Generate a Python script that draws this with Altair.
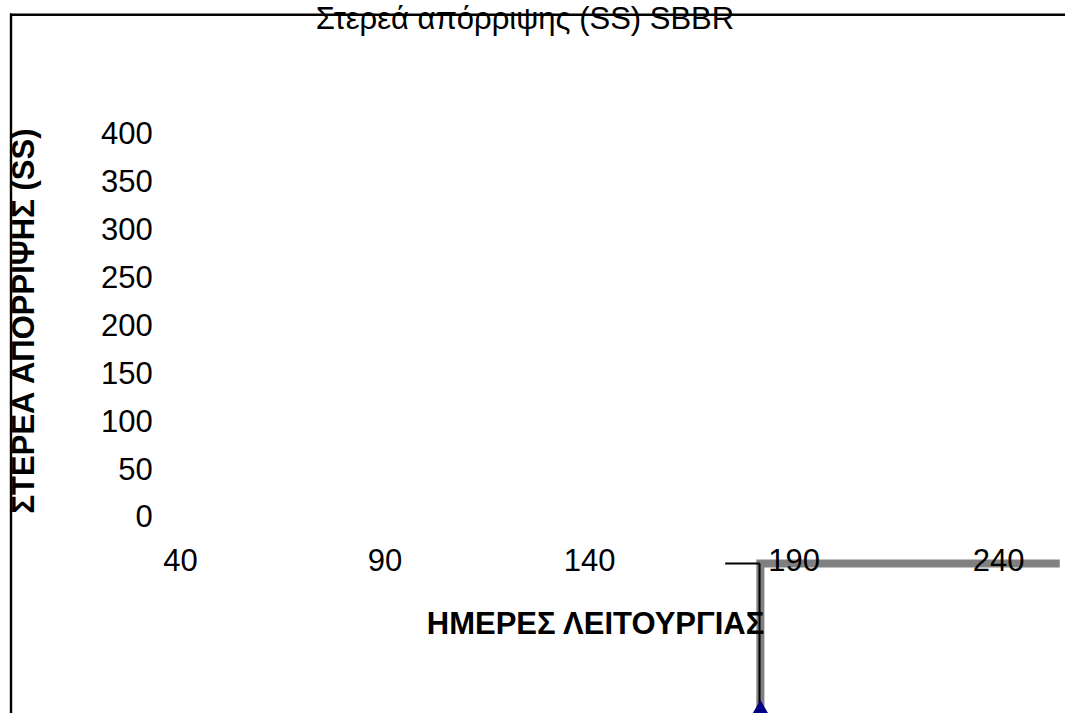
import altair as alt
import pandas as pd

FONT = "Liberation Sans"

# ---- values ----
x_ticks = [40, 90, 140, 190, 240]
y_ticks = [0, 50, 100, 150, 200, 250, 300, 350, 400]

x_domain = [-4.01, 256.38]
y_domain = [-203.8, 540.9]

# grey plot-area border series
border_x = [181.9, 181.9, 255.1]
border_y = [-212.0, -47.6, -47.6]
border_order = [0, 1, 2]

# data point (triangle marker)
point_x = [181.9]
point_y = [-198.3]

# inner axis line and its tick
axis_line_x = [181.7]
axis_line_y = [-47.6]
axis_line_y2 = [-212.0]
tick_x = [173.3]
tick_x2 = [181.7]
tick_y = [-47.6]

title_text = "Στερεά απόρριψης (SS) SBBR"
x_title = "ΗΜΕΡΕΣ ΛΕΙΤΟΥΡΓΙΑΣ"
y_title = "ΣΤΕΡΕΑ ΑΠΟΡΡΙΨΗΣ (SS)"

border_df = pd.DataFrame({"x": border_x, "y": border_y, "o": border_order})
point_df = pd.DataFrame({"x": point_x, "y": point_y})
axis_df = pd.DataFrame({"x": axis_line_x, "y": axis_line_y, "y2": axis_line_y2})
tick_df = pd.DataFrame({"x": tick_x, "x2": tick_x2, "y": tick_y})

xs = alt.Scale(domain=x_domain, nice=False, zero=False)
ys = alt.Scale(domain=y_domain, nice=False, zero=False)

x_axis = alt.Axis(
    values=x_ticks, title=x_title, offset=-151.7, domain=False, ticks=False,
    tickSize=0, grid=False, labelPadding=0, labelBaseline="middle",
    labelFont=FONT, labelFontSize=31, labelColor="black", labelFlush=False,
    labelOverlap=False, labelBound=False, zindex=1,
    titleFont=FONT, titleFontSize=31, titleFontWeight="bold", titleColor="black",
    titleX=595, titleY=63.3, titleAlign="center", titleBaseline="middle",
)
y_axis = alt.Axis(
    values=y_ticks, title=y_title, offset=-152.3, domain=False, ticks=False,
    tickSize=0, grid=False, labelPadding=0, labelBaseline="middle", labelAlign="right",
    labelFont=FONT, labelFontSize=31, labelColor="black", labelFlush=False,
    labelOverlap=False, labelBound=False,
    titleFont=FONT, titleFontSize=31, titleFontWeight="bold", titleColor="black",
    titleAngle=270, titleX=-128, titleY=320.5, titleAlign="center",
    titleBaseline="middle", titleLimit=0,
)

border = alt.Chart(border_df).mark_line(
    color="#808080", strokeWidth=8, clip=True, strokeJoin="miter", strokeCap="butt"
).encode(
    x=alt.X("x:Q", scale=xs, axis=x_axis),
    y=alt.Y("y:Q", scale=ys, axis=y_axis),
    order="o:O",
)

axis_line = alt.Chart(axis_df).mark_rule(color="black", strokeWidth=2, clip=True).encode(
    x=alt.X("x:Q", scale=xs), y=alt.Y("y:Q", scale=ys), y2="y2:Q"
)
tick = alt.Chart(tick_df).mark_rule(color="black", strokeWidth=2, clip=True).encode(
    x=alt.X("x:Q", scale=xs), x2="x2:Q", y=alt.Y("y:Q", scale=ys)
)
point = alt.Chart(point_df).mark_point(
    shape="triangle-up", filled=True, color="#000080", size=324, opacity=1, clip=True
).encode(x=alt.X("x:Q", scale=xs), y=alt.Y("y:Q", scale=ys))

one = alt.Data(values=[{}])
frame_top = alt.Chart(one).mark_rule(color="black", strokeWidth=2.5).encode(
    x=alt.value(10), x2=alt.value(1065), y=alt.value(14.7)
)
frame_left = alt.Chart(one).mark_rule(color="black", strokeWidth=2.4).encode(
    x=alt.value(11), y=alt.value(13.5), y2=alt.value(713)
)
title = alt.Chart(one).mark_text(
    text=title_text, font=FONT, fontSize=31, align="center", baseline="alphabetic",
    color="black"
).encode(x=alt.value(525), y=alt.value(29))

chart = alt.layer(
    border, axis_line, tick, point, frame_top, frame_left, title
).properties(
    width=1065, height=713, padding=0, autosize=alt.AutoSizeParams(type="none"),
    background="white",
).configure_view(stroke=None)

chart.save("out.html", embed_options={"renderer": "svg", "actions": False})
